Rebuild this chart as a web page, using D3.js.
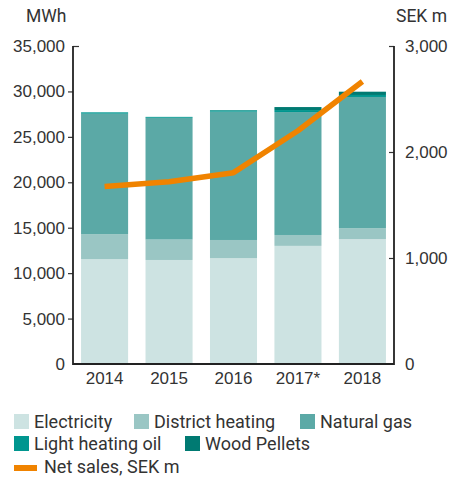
<!DOCTYPE html>
<html>
<head>
<meta charset="utf-8">
<script src="https://cdn.jsdelivr.net/npm/d3@7"></script>
<style>
  body { margin: 0; background: #fff; }
  svg { display: block; font-family: Roboto, "DejaVu Sans", sans-serif; }
  text { fill: #333; }
</style>
</head>
<body>
<svg class="canvas" width="460" height="477"></svg>
<script>
// data
const years = ["2014", "2015", "2016", "2017*", "2018"];
const electricity = [11550, 11450, 11650, 13000, 13750];
const districtHeating = [2750, 2250, 2000, 1200, 1200];
const naturalGas = [13250, 13400, 14120, 13530, 14440];
const lightHeatingOil = [150, 100, 150, 220, 220];
const woodPellets = [0, 0, 30, 330, 360];
const netSales = [1675, 1720, 1805, 2200, 2665];

const leftTicks = [0, 5000, 10000, 15000, 20000, 25000, 30000, 35000];
const rightTicks = [0, 1000, 2000, 3000];

const seriesNames = ["Electricity", "District heating", "Natural gas", "Light heating oil", "Wood Pellets"];
const colors = ["#cde3e2", "#9ac6c4", "#5ba9a6", "#00968f", "#007a72"];
const lineColor = "#f08300";

const svg = d3.select(".canvas");

const x0 = 73, x1 = 394, yTop = 46, yBot = 364;

const x = d3.scaleBand()
  .domain(years)
  .range([x0, x1])
  .paddingInner(0.27)
  .paddingOuter(0.125);

const yL = d3.scaleLinear().domain([0, 35000]).range([yBot, yTop]);
const yR = d3.scaleLinear().domain([0, 3000]).range([yBot, yTop]);

// stack the bars
const table = years.map((yr, i) => ({
  year: yr,
  "Electricity": electricity[i],
  "District heating": districtHeating[i],
  "Natural gas": naturalGas[i],
  "Light heating oil": lightHeatingOil[i],
  "Wood Pellets": woodPellets[i]
}));

const stacked = d3.stack().keys(seriesNames)(table);

svg.append("g")
  .selectAll("g")
  .data(stacked)
  .join("g")
  .attr("fill", (d, i) => colors[i])
  .selectAll("rect")
  .data(d => d)
  .join("rect")
  .attr("x", d => x(d.data.year))
  .attr("y", d => yL(d[1]))
  .attr("width", x.bandwidth())
  .attr("height", d => yL(d[0]) - yL(d[1]));

// axes
const fmt = d3.format(",");

const leftAxis = svg.append("g").attr("transform", `translate(${x0},0)`)
  .call(d3.axisLeft(yL).tickValues(leftTicks).tickFormat(fmt).tickSize(5).tickPadding(3).tickSizeOuter(0));
leftAxis.select(".domain").remove();
leftAxis.selectAll("text").style("font-size", "17px").attr("fill", "#333");
leftAxis.selectAll("line").attr("stroke", "#333").attr("stroke-width", 1.2);
leftAxis.selectAll(".tick").filter(d => d === 35000).select("line").attr("x2", 6);
leftAxis.selectAll(".tick").filter(d => d === 0).select("line").remove();

const rightAxis = svg.append("g").attr("transform", `translate(${x1},0)`)
  .call(d3.axisRight(yR).tickValues(rightTicks).tickFormat(fmt).tickSize(5).tickPadding(6).tickSizeOuter(0));
rightAxis.select(".domain").remove();
rightAxis.selectAll("text").style("font-size", "17px").attr("fill", "#333");
rightAxis.selectAll("line").attr("stroke", "#333").attr("stroke-width", 1.2).attr("x2", -5);
rightAxis.selectAll(".tick").filter(d => d === 0).select("line").remove();

// frame lines
svg.append("path")
  .attr("d", `M${x0},${yTop}V${yBot}H${x1}V${yTop}`)
  .attr("fill", "none")
  .attr("stroke", "#222")
  .attr("stroke-width", 1.8);

const bottomAxis = svg.append("g").attr("transform", `translate(0,${yBot})`)
  .call(d3.axisBottom(x).tickSize(0).tickPadding(8));
bottomAxis.select(".domain").remove();
bottomAxis.selectAll("text").style("font-size", "17px").attr("fill", "#333");

// units
svg.append("text").attr("x", 26).attr("y", 22).style("font-size", "17.5px").text("MWh");
svg.append("text").attr("x", 447).attr("y", 22).attr("text-anchor", "end").style("font-size", "17.5px").text("SEK m");

// net sales line
const line = d3.line()
  .x((d, i) => x(years[i]) + x.bandwidth() / 2)
  .y(d => yR(d));

svg.append("path")
  .datum(netSales)
  .attr("d", line)
  .attr("fill", "none")
  .attr("stroke", lineColor)
  .attr("stroke-width", 5.5)
  .attr("stroke-linejoin", "round");

// legend
const legendItems = [
  { name: "Electricity", x: 14, y: 414 },
  { name: "District heating", x: 134, y: 414 },
  { name: "Natural gas", x: 300, y: 414 },
  { name: "Light heating oil", x: 14, y: 436 },
  { name: "Wood Pellets", x: 185, y: 436 }
];

const legend = svg.append("g");
legendItems.forEach((item, i) => {
  legend.append("rect")
    .attr("x", item.x).attr("y", item.y)
    .attr("width", 15).attr("height", 15)
    .attr("fill", colors[i]);
  legend.append("text")
    .attr("x", item.x + 20).attr("y", item.y + 14)
    .style("font-size", "18px")
    .text(item.name);
});

legend.append("rect")
  .attr("x", 14).attr("y", 465)
  .attr("width", 23).attr("height", 6)
  .attr("fill", lineColor);
legend.append("text")
  .attr("x", 44).attr("y", 473)
  .style("font-size", "18px")
  .text("Net sales, SEK m");
</script>
</body>
</html>
